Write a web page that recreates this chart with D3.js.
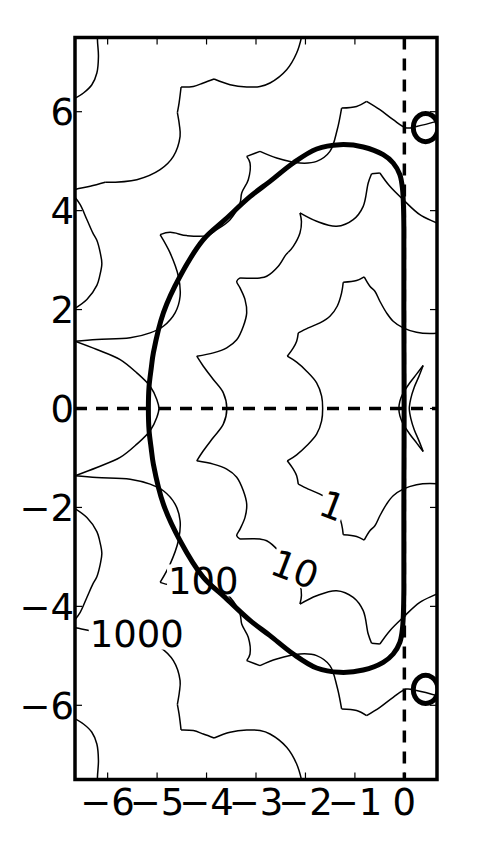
<!DOCTYPE html>
<html><head><meta charset="utf-8">
<script src="https://cdn.jsdelivr.net/npm/d3@7"></script>
<style>body{margin:0;background:#fff}svg{display:block}</style>
</head><body>
<script>
// ---------- data ----------
const xTicks = [-6, -5, -4, -3, -2, -1, 0];
const xTickLabels = ["−6", "−5", "−4", "−3", "−2", "−1", "0"];
const yTicks = [-6, -4, -2, 0, 2, 4, 6];
const yTickLabels = ["−6", "−4", "−2", "0", "2", "4", "6"];
const xDomain = [-6.66, 0.66];
const yDomain = [-7.5, 7.5];

// thick curve |R(z)| = 1 (closed)
const stabilityBoundary = [
  [-5.176,0],[-5.162,0.45],[-5.12,0.80],[-5.075,1.125],[-4.873,1.933],[-4.535,2.673],[-4.065,3.414],
  [-3.626,3.818],[-3.121,4.283],[-2.717,4.592],[-2.246,4.964],[-1.774,5.246],[-1.303,5.333],[-0.832,5.287],
  [-0.428,5.131],[-0.226,4.963],[-0.091,4.727],[-0.036,4.424],[-0.016,4.02],[-0.01,3.616],[-0.01,2.0],[-0.005,0],
  [-0.01,-2.0],[-0.01,-3.616],[-0.016,-4.02],[-0.036,-4.424],[-0.091,-4.727],[-0.226,-4.963],[-0.428,-5.131],
  [-0.832,-5.287],[-1.303,-5.333],[-1.774,-5.246],[-2.246,-4.964],[-2.717,-4.592],[-3.121,-4.283],[-3.626,-3.818],
  [-4.065,-3.414],[-4.535,-2.673],[-4.873,-1.933],[-5.075,-1.125],[-5.12,-0.80],[-5.162,-0.45]
];
const stabilityIslandUpper = [
  [0.68,5.68],[0.6465,5.8225],[0.555,5.9268],[0.43,5.965],[0.305,5.9268],[0.2135,5.8225],
  [0.18,5.68],[0.2135,5.5375],[0.305,5.4332],[0.43,5.395],[0.555,5.4332],[0.6465,5.5375]
];
const stabilityIslandLower = [
  [0.68,-5.68],[0.6465,-5.5375],[0.555,-5.4332],[0.43,-5.395],[0.305,-5.4332],[0.2135,-5.5375],
  [0.18,-5.68],[0.2135,-5.8225],[0.305,-5.9268],[0.43,-5.965],[0.555,-5.9268],[0.6465,-5.8225]
];

// thin contours; third value 1 marks a cusp
const contourLevel1 = [
  [0.72,1.53],[0.515,1.515],[0.246,1.541],[-0.024,1.63],[-0.226,1.764],[-0.36,1.933],[-0.495,2.168],
  [-0.596,2.37],[-0.697,2.471],[-0.812,2.66,1],[-0.966,2.586],[-1.236,2.552,1],[-1.269,2.337],[-1.358,2.067],
  [-1.505,1.865],[-1.707,1.731],[-1.943,1.63],[-2.145,1.529,1],[-2.178,1.36],[-2.246,1.226],[-2.368,1.057,1],
  [-2.178,0.936],[-1.976,0.754],[-1.774,0.519],[-1.673,0.249],[-1.652,0],
  [-1.673,-0.249],[-1.774,-0.519],[-1.976,-0.754],[-2.178,-0.936],[-2.368,-1.057,1],[-2.246,-1.226],
  [-2.178,-1.36],[-2.145,-1.529,1],[-1.943,-1.63],[-1.707,-1.731],[-1.505,-1.865],[-1.358,-2.067],
  [-1.269,-2.337],[-1.236,-2.552,1],[-0.966,-2.586],[-0.812,-2.66,1],[-0.697,-2.471],[-0.596,-2.37],
  [-0.495,-2.168],[-0.36,-1.933],[-0.226,-1.764],[-0.024,-1.63],[0.246,-1.541],[0.515,-1.515],[0.72,-1.53]
];
const contourLevel10 = [
  [0.82,3.657],[0.65,3.751],[0.313,3.919],[-0.024,4.222],[-0.293,4.491],[-0.495,4.761,1],[-0.663,4.747,1],
  [-0.731,4.56],[-0.832,4.087],[-1.034,3.818],[-1.37,3.683],[-1.774,3.784],[-2.111,3.953,1],[-2.081,3.778],
  [-2.111,3.549],[-2.246,3.279],[-2.347,3.158,1],[-2.394,3.111],[-2.549,2.875],[-2.784,2.673],[-2.919,2.64],
  [-3.323,2.64,1],[-3.39,2.572],[-3.323,2.438],[-3.222,2.202],[-3.188,1.933],[-3.256,1.663],[-3.39,1.388],
  [-3.592,1.226],[-3.863,1.125],[-4.198,1.057,1],[-4.065,0.855],[-3.863,0.586],[-3.661,0.317],[-3.59,0],
  [-3.661,-0.317],[-3.863,-0.586],[-4.065,-0.855],[-4.198,-1.057,1],[-3.863,-1.125],[-3.592,-1.226],
  [-3.39,-1.388],[-3.256,-1.663],[-3.188,-1.933],[-3.222,-2.202],[-3.323,-2.438],[-3.39,-2.572],
  [-3.323,-2.64,1],[-2.919,-2.64],[-2.784,-2.673],[-2.549,-2.875],[-2.394,-3.111],[-2.347,-3.158,1],
  [-2.246,-3.279],[-2.111,-3.549],[-2.081,-3.778],[-2.111,-3.953,1],[-1.774,-3.784],[-1.37,-3.683],
  [-1.034,-3.818],[-0.832,-4.087],[-0.731,-4.56],[-0.663,-4.747,1],[-0.495,-4.761,1],[-0.293,-4.491],
  [-0.024,-4.222],[0.313,-3.919],[0.65,-3.751],[0.82,-3.657]
];
const contourLevel100 = [
  [0.82,5.858],[0.65,5.804],[0.246,5.703],[0.044,5.671],[-0.226,5.838],[-0.495,6.04],[-0.764,6.208,1],
  [-0.966,6.107],[-1.269,6.074,1],[-1.358,5.636],[-1.505,5.198],[-1.774,4.996],[-2.111,4.963],[-2.582,5.065],
  [-2.919,5.198,1],[-3.188,5.097,1],[-3.121,4.963],[-3.156,4.626],[-3.289,4.357],[-3.323,4.155],[-3.525,3.818],
  [-3.794,3.616],[-3.996,3.495],[-4.4,3.495],[-4.737,3.561],[-4.939,3.515,1],[-4.737,3.145],[-4.57,2.673],
  [-4.535,2.269],[-4.636,1.933],[-4.873,1.663],[-5.141,1.529],[-5.545,1.428],[-6.218,1.394],[-6.66,1.36,1],
  [-6.218,1.192],[-5.747,0.99],[-5.41,0.721],[-5.141,0.45],[-5.006,0.182],[-4.963,0],
  [-5.006,-0.182],[-5.141,-0.45],[-5.41,-0.721],[-5.747,-0.99],[-6.218,-1.192],[-6.66,-1.36,1],
  [-6.218,-1.394],[-5.545,-1.428],[-5.141,-1.529],[-4.873,-1.663],[-4.636,-1.933],[-4.535,-2.269],
  [-4.57,-2.673],[-4.737,-3.145],[-4.939,-3.515,1],[-4.737,-3.561],[-4.4,-3.495],[-3.996,-3.495],
  [-3.794,-3.616],[-3.525,-3.818],[-3.323,-4.155],[-3.289,-4.357],[-3.156,-4.626],[-3.121,-4.963],
  [-3.188,-5.097,1],[-2.919,-5.198,1],[-2.582,-5.065],[-2.111,-4.963],[-1.774,-4.996],[-1.505,-5.198],
  [-1.358,-5.636],[-1.269,-6.074,1],[-0.966,-6.107],[-0.764,-6.208,1],[-0.495,-6.04],[-0.226,-5.838],
  [0.044,-5.671],[0.246,-5.703],[0.65,-5.804],[0.82,-5.858]
];
const contourLevel1000Upper = [
  [-6.70,4.42],[-6.622,4.438],[-6.353,4.491],[-6.05,4.572,1],[-5.41,4.626],[-4.939,4.828],[-4.671,5.097],
  [-4.535,5.501],[-4.55,5.737],[-4.59,5.98,1],[-4.555,6.18],[-4.515,6.499,1],[-4.267,6.511],[-4.065,6.58],
  [-3.848,6.66,1],[-3.525,6.545],[-3.188,6.499],[-2.919,6.511],[-2.717,6.58],[-2.38,6.848],[-2.178,7.186],
  [-2.077,7.521],[-2.04,7.8]
];
const contourLevel1000Lower = [
  [-6.70,-4.42],[-6.622,-4.438],[-6.353,-4.491],[-6.05,-4.572,1],[-5.41,-4.626],[-4.939,-4.828],[-4.671,-5.097],
  [-4.535,-5.501],[-4.55,-5.737],[-4.59,-5.98,1],[-4.555,-6.18],[-4.515,-6.499,1],[-4.267,-6.511],[-4.065,-6.58],
  [-3.848,-6.66,1],[-3.525,-6.545],[-3.188,-6.499],[-2.919,-6.511],[-2.717,-6.58],[-2.38,-6.848],[-2.178,-7.186],
  [-2.077,-7.521],[-2.04,-7.8]
];
const cornerArcUpper = [[-6.2,7.8],[-6.206,7.455],[-6.186,7.117],[-6.218,6.782],[-6.319,6.545],[-6.489,6.378],[-6.70,6.25]];
const cornerArcLower = [[-6.2,-7.8],[-6.206,-7.455],[-6.186,-7.117],[-6.218,-6.782],[-6.319,-6.545],[-6.489,-6.378],[-6.70,-6.25]];
const edgeArcUpper = [[-6.70,4.32],[-6.555,4.12],[-6.42,3.82],[-6.30,3.55],[-6.218,3.40],[-6.15,3.15],[-6.117,2.93],[-6.16,2.68],[-6.218,2.49],[-6.42,2.205],[-6.70,2.0]];
const edgeArcLower = [[-6.70,-4.32],[-6.555,-4.12],[-6.42,-3.82],[-6.30,-3.55],[-6.218,-3.40],[-6.15,-3.15],[-6.117,-2.93],[-6.16,-2.68],[-6.218,-2.49],[-6.42,-2.205],[-6.70,-2.0]];
const crescent = [
  [0.38,0.87,1],[0.25,0.70],[0.111,0.52],[-0.03,0.30],[-0.09,0.15],[-0.111,0],[-0.09,-0.15],[-0.03,-0.30],
  [0.111,-0.52],[0.25,-0.70],[0.38,-0.87,1],[0.29,-0.64],[0.2,-0.43],[0.13,-0.2],[0.1,0],[0.13,0.2],
  [0.2,0.43],[0.29,0.64],[0.38,0.87,1]
];
const contourLabelText = ["1", "10", "100", "1000"];
const contourLabelX = [-1.452, -2.21, -4.065, -5.41];
const contourLabelY = [-1.96, -3.24, -3.475, -4.55];
const contourLabelAngle = [21, 21, 0, 0];

// ---------- drawing ----------
const W = 480, H = 847;
const L = 75, R = 437, T = 37.5, B = 779.5;
const fs = 37;
const x = d3.scaleLinear().domain(xDomain).range([L, R]);
const y = d3.scaleLinear().domain(yDomain).range([B, T]);

const svg = d3.select("body").append("svg").attr("width", W).attr("height", H)
  .style("font-family", "'DejaVu Sans', sans-serif");
const defs = svg.append("defs");
defs.append("clipPath").attr("id", "plotclip").append("rect")
  .attr("x", L).attr("y", T).attr("width", R - L).attr("height", B - T);
const mask = defs.append("mask").attr("id", "labelgaps").attr("maskUnits", "userSpaceOnUse")
  .attr("x", 0).attr("y", 0).attr("width", W).attr("height", H);
mask.append("rect").attr("width", W).attr("height", H).attr("fill", "#fff");
contourLabelText.forEach((t, i) => {
  const w = t.length * 0.636 * fs + 2, h = 32;
  mask.append("rect").attr("x", -w / 2).attr("y", -h / 2).attr("width", w).attr("height", h)
    .attr("fill", "#000")
    .attr("transform", `translate(${x(contourLabelX[i])},${y(contourLabelY[i])}) rotate(${contourLabelAngle[i]})`);
});

function segments(pts) {
  const segs = []; let cur = [];
  pts.forEach(p => { cur.push(p); if (p[2] === 1 && cur.length > 1) { segs.push(cur); cur = [p]; } });
  if (cur.length > 1) segs.push(cur);
  return segs;
}
const line = d3.line().x(d => x(d[0])).y(d => y(d[1])).curve(d3.curveCatmullRom.alpha(0.5));
const closedLine = d3.line().x(d => x(d[0])).y(d => y(d[1])).curve(d3.curveCatmullRomClosed.alpha(0.5));

const plot = svg.append("g").attr("clip-path", "url(#plotclip)");
const thin = plot.append("g").attr("mask", "url(#labelgaps)");
[contourLevel1, contourLevel10, contourLevel100, contourLevel1000Upper, contourLevel1000Lower,
 cornerArcUpper, cornerArcLower, edgeArcUpper, edgeArcLower, crescent].forEach(c => {
  segments(c).forEach(s => thin.append("path").attr("d", line(s))
    .attr("fill", "none").attr("stroke", "#000").attr("stroke-width", 1.5));
});

[stabilityBoundary, stabilityIslandUpper, stabilityIslandLower].forEach(c => {
  plot.append("path").attr("d", closedLine(c)).attr("fill", "none")
    .attr("stroke", "#000").attr("stroke-width", 5);
});

plot.append("line").attr("x1", x(xDomain[0])).attr("x2", x(xDomain[1])).attr("y1", y(0)).attr("y2", y(0))
  .attr("stroke", "#000").attr("stroke-width", 3.5).attr("stroke-dasharray", "12,9");
plot.append("line").attr("x1", x(0)).attr("x2", x(0)).attr("y1", y(yDomain[1])).attr("y2", y(yDomain[0]))
  .attr("stroke", "#000").attr("stroke-width", 3.5).attr("stroke-dasharray", "12,9");

// frame and ticks
const tickLen = 7;
const ticks = svg.append("g").attr("stroke", "#000").attr("stroke-width", 1.2);
xTicks.forEach(v => {
  ticks.append("line").attr("x1", x(v)).attr("x2", x(v)).attr("y1", B).attr("y2", B - tickLen);
  ticks.append("line").attr("x1", x(v)).attr("x2", x(v)).attr("y1", T).attr("y2", T + tickLen);
});
yTicks.forEach(v => {
  ticks.append("line").attr("x1", L).attr("x2", L + tickLen).attr("y1", y(v)).attr("y2", y(v));
  ticks.append("line").attr("x1", R).attr("x2", R - tickLen).attr("y1", y(v)).attr("y2", y(v));
});
svg.append("rect").attr("x", L).attr("y", T).attr("width", R - L).attr("height", B - T)
  .attr("fill", "none").attr("stroke", "#000").attr("stroke-width", 3.5);

// tick labels
xTicks.forEach((v, i) => {
  svg.append("text").attr("x", x(v)).attr("y", 815).attr("text-anchor", "middle")
    .attr("font-size", fs).text(xTickLabels[i]);
});
yTicks.forEach((v, i) => {
  svg.append("text").attr("x", 74).attr("y", y(v) + 0.365 * fs).attr("text-anchor", "end")
    .attr("font-size", fs).text(yTickLabels[i]);
});

// contour labels
contourLabelText.forEach((t, i) => {
  svg.append("text")
    .attr("transform", `translate(${x(contourLabelX[i])},${y(contourLabelY[i])}) rotate(${contourLabelAngle[i]})`)
    .attr("text-anchor", "middle").attr("dy", (0.365 * fs) + "px")
    .attr("font-size", fs).text(t);
});
</script>
</body></html>
